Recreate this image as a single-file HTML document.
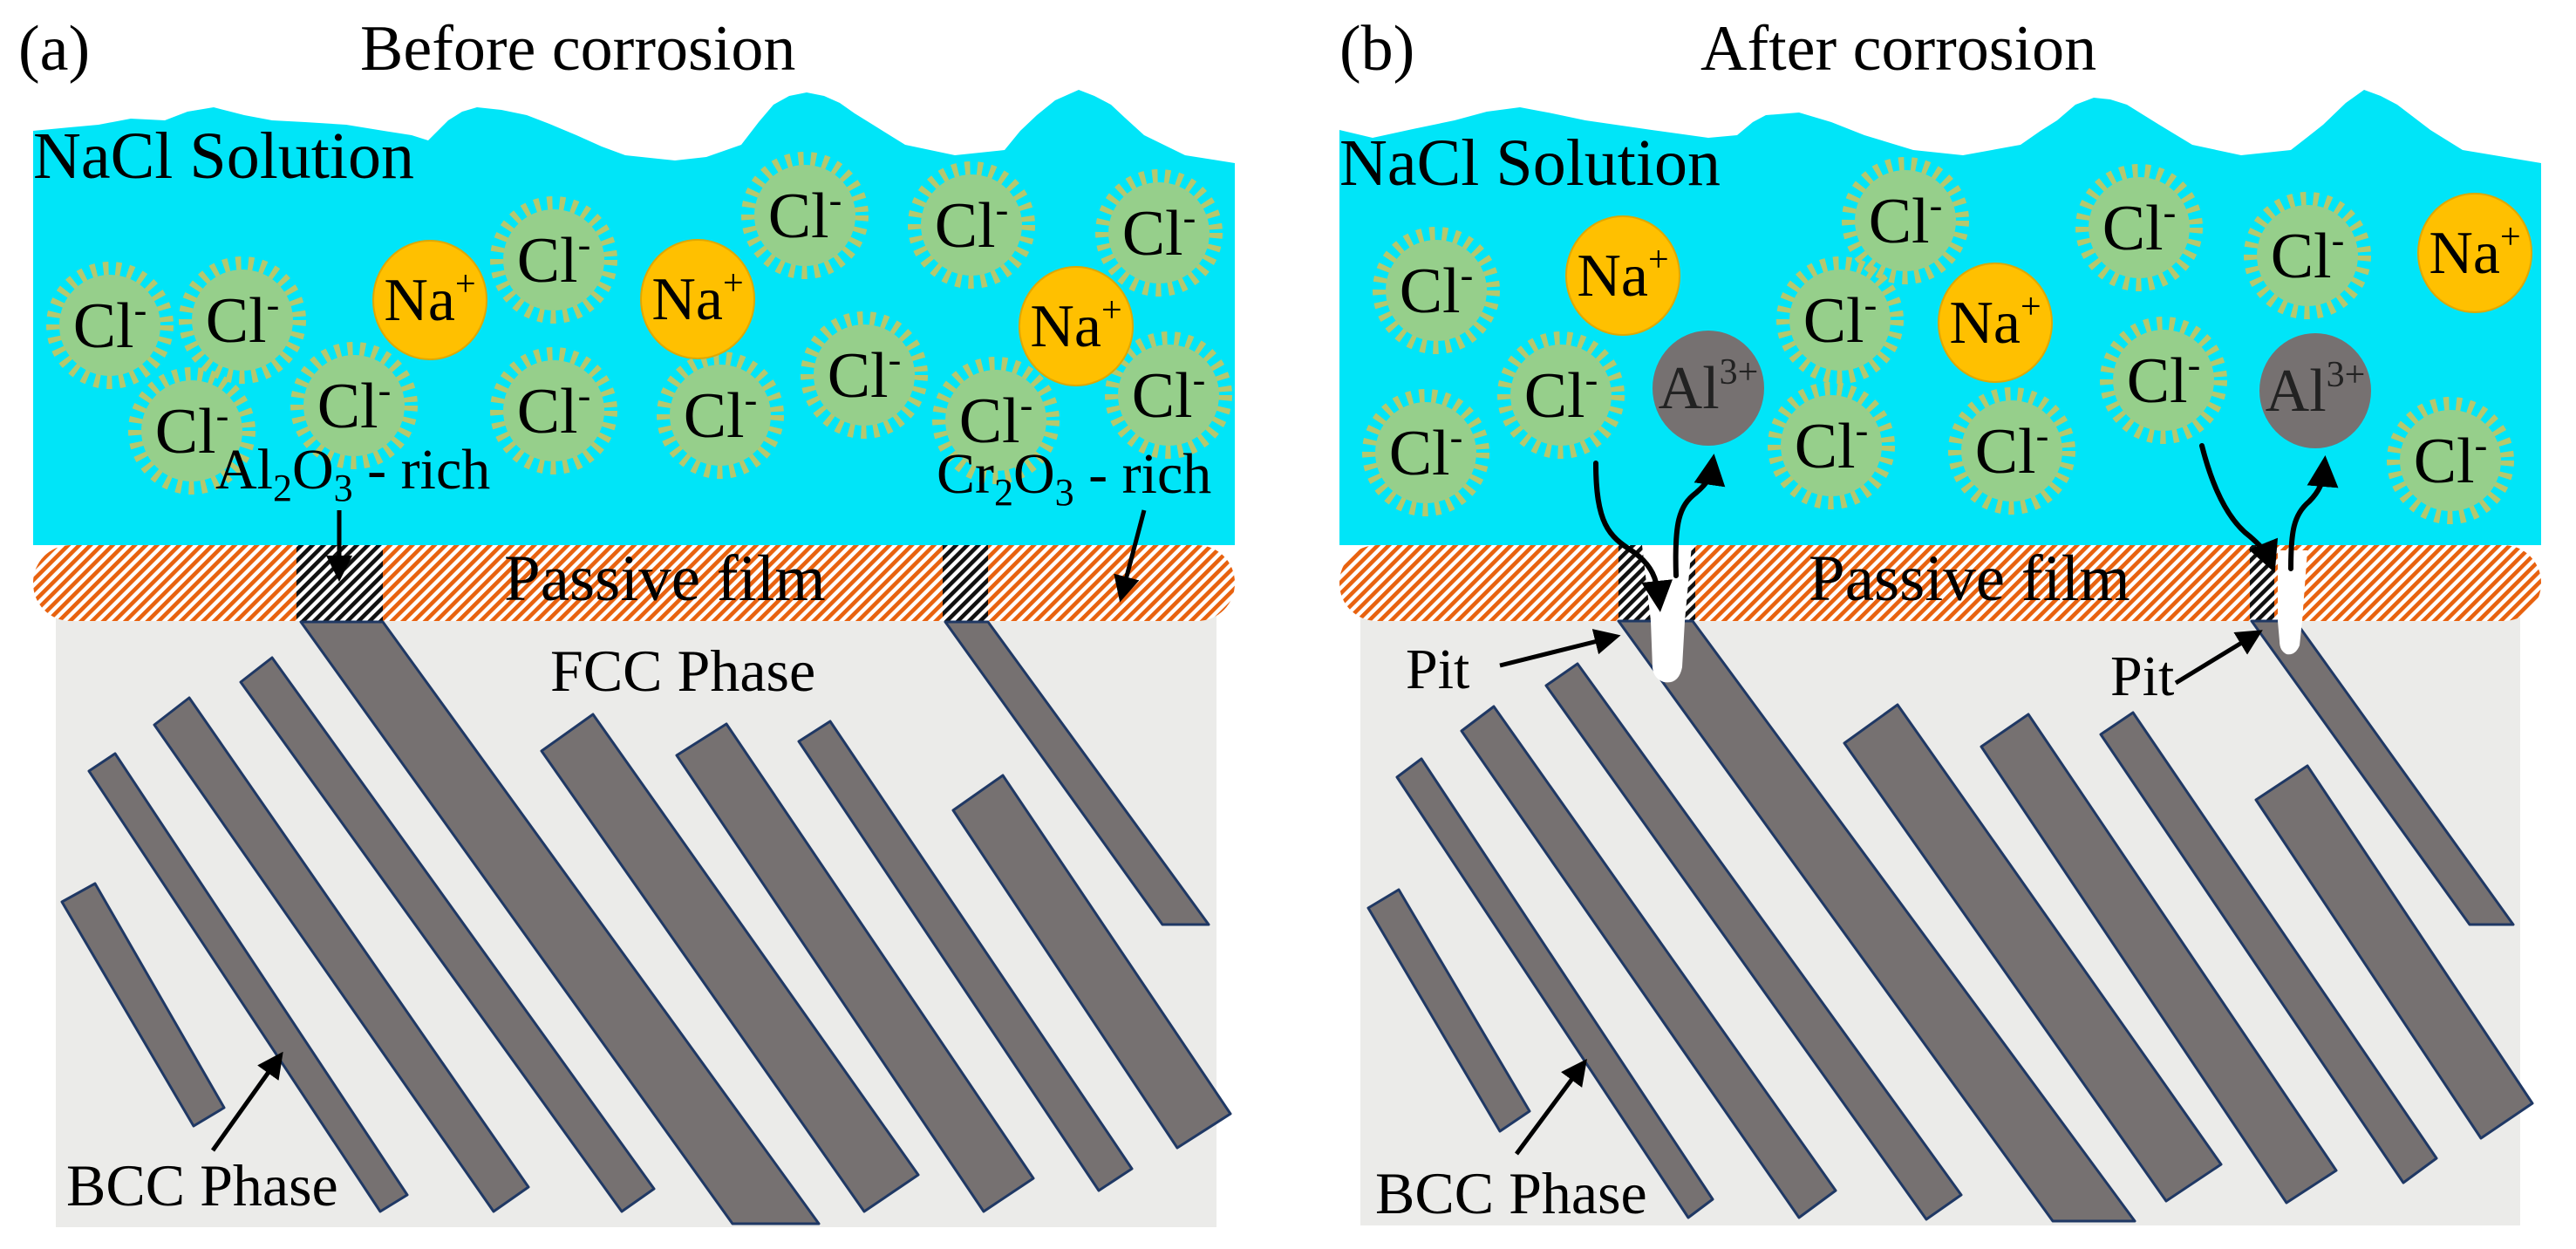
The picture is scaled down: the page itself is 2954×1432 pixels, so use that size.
<!DOCTYPE html>
<html><head><meta charset="utf-8"><style>html,body{margin:0;padding:0;background:#fff}svg{display:block}svg text{font-family:"Liberation Serif",serif}</style></head>
<body>
<svg width="2954" height="1432" viewBox="0 0 2954 1432" xmlns="http://www.w3.org/2000/svg">
<defs>
<pattern id="ho" width="9" height="9" patternUnits="userSpaceOnUse" patternTransform="rotate(45)">
<rect width="9" height="9" fill="#fff"/><rect width="4.6" height="9" fill="#E8620F"/></pattern>
<pattern id="hk" width="9" height="9" patternUnits="userSpaceOnUse" patternTransform="rotate(45)">
<rect width="9" height="9" fill="#fff"/><rect width="4.6" height="9" fill="#111"/></pattern>
<marker id="ah" markerWidth="6" markerHeight="6" refX="3" refY="3" orient="auto" markerUnits="strokeWidth">
<path d="M0,0 L6,3 L0,6 Z" fill="#000"/></marker>
<g id="cl"><circle r="64" fill="none" stroke="#b5c86e" stroke-width="18" stroke-dasharray="6 8"/><circle r="58" fill="#96CF8B"/></g>
<g id="na"><ellipse rx="65" ry="68" fill="#FFC000" stroke="#e0a800" stroke-width="2"/></g>
<g id="al"><ellipse rx="64" ry="66" fill="#767171"/></g>
</defs>

<!-- ===== Panel (a) ===== -->
<text x="21" y="80" font-size="74">(a)</text>
<text x="413" y="80" font-size="74">Before corrosion</text>
<path fill="#00E5F8" d="M38,150 L80,146 L113,143 L150,136 L189,138 L215,128 L245,123 L280,132 L312,138 L350,140 L397,143 L440,150 L472,155 L491,161 L514,138 L530,128 L547,123 L575,126 L604,132 L630,142 L661,155 L690,168 L717,178 L774,184 L810,180 L850,166 L870,140 L887,120 L905,110 L925,106 L945,110 L963,118 L980,130 L1001,143 L1038,166 L1095,178 L1152,172 L1170,150 L1189,132 L1210,115 L1237,103 L1255,110 L1274,120 L1290,135 L1312,155 L1359,178 L1416,187 L1416,625 L38,625 Z"/>
<text x="38" y="204" font-size="76">NaCl Solution</text>
<rect x="64" y="700" width="1331" height="707" fill="#ebebe9"/>
<rect x="38" y="625" width="1378" height="87" rx="43" fill="url(#ho)"/>
<rect x="340" y="625" width="99" height="87" fill="url(#hk)"/>
<rect x="1081" y="625" width="52" height="87" fill="url(#hk)"/>
<text x="578" y="688" font-size="75">Passive film</text>
<g fill="#767171" stroke="#1F3864" stroke-width="3" stroke-linejoin="round">
<polygon points="345,713 439,713 939,1403 840,1403"/>
<polygon points="276,782 312,754 750,1363 713,1389"/>
<polygon points="177,831 217,800 606,1361 566,1389"/>
<polygon points="102,884 132,864 467,1370 436,1389"/>
<polygon points="71,1034 109,1013 257,1270 222,1291"/>
<polygon points="621,861 680,819 1053,1347 991,1389"/>
<polygon points="776,866 833,830 1185,1351 1128,1389"/>
<polygon points="916,850 952,827 1298,1340 1260,1365"/>
<polygon points="1093,929 1150,889 1411,1277 1350,1316"/>
<polygon points="1084,713 1133,713 1386,1060 1333,1060"/>
</g>
<text x="631" y="792" font-size="68">FCC Phase</text>
<text x="76" y="1382" font-size="68">BCC Phase</text>
<line x1="244" y1="1319" x2="316" y2="1218" stroke="#000" stroke-width="5" marker-end="url(#ah)"/>

<use href="#cl" x="126" y="373"/><use href="#cl" x="278" y="367"/><use href="#cl" x="220" y="494"/>
<use href="#cl" x="406" y="465"/><use href="#cl" x="635" y="298"/><use href="#cl" x="635" y="471"/>
<use href="#cl" x="826" y="476"/><use href="#cl" x="923" y="247"/><use href="#cl" x="991" y="430"/>
<use href="#cl" x="1114" y="258"/><use href="#cl" x="1142" y="482"/><use href="#cl" x="1329" y="267"/>
<use href="#cl" x="1340" y="453"/>
<use href="#na" x="493" y="344"/><use href="#na" x="800" y="343"/><use href="#na" x="1234" y="374"/>
<g font-size="74" text-anchor="middle">
<text x="126" y="398">Cl<tspan dy="-28" font-size="44">-</tspan></text>
<text x="278" y="392">Cl<tspan dy="-28" font-size="44">-</tspan></text>
<text x="220" y="519">Cl<tspan dy="-28" font-size="44">-</tspan></text>
<text x="406" y="490">Cl<tspan dy="-28" font-size="44">-</tspan></text>
<text x="635" y="323">Cl<tspan dy="-28" font-size="44">-</tspan></text>
<text x="635" y="496">Cl<tspan dy="-28" font-size="44">-</tspan></text>
<text x="826" y="501">Cl<tspan dy="-28" font-size="44">-</tspan></text>
<text x="923" y="272">Cl<tspan dy="-28" font-size="44">-</tspan></text>
<text x="991" y="455">Cl<tspan dy="-28" font-size="44">-</tspan></text>
<text x="1114" y="283">Cl<tspan dy="-28" font-size="44">-</tspan></text>
<text x="1142" y="507">Cl<tspan dy="-28" font-size="44">-</tspan></text>
<text x="1329" y="292">Cl<tspan dy="-28" font-size="44">-</tspan></text>
<text x="1340" y="478">Cl<tspan dy="-28" font-size="44">-</tspan></text>
</g>
<g font-size="70" text-anchor="middle">
<text x="493" y="367">Na<tspan dy="-28" font-size="42">+</tspan></text>
<text x="800" y="366">Na<tspan dy="-28" font-size="42">+</tspan></text>
<text x="1234" y="397">Na<tspan dy="-28" font-size="42">+</tspan></text>
</g>
<text x="247" y="560" font-size="66">Al<tspan dy="14" font-size="44">2</tspan><tspan dy="-14">O</tspan><tspan dy="14" font-size="44">3</tspan><tspan dy="-14"> - rich</tspan></text>
<text x="1074" y="565" font-size="66">Cr<tspan dy="14" font-size="44">2</tspan><tspan dy="-14">O</tspan><tspan dy="14" font-size="44">3</tspan><tspan dy="-14"> - rich</tspan></text>
<line x1="389" y1="585" x2="389" y2="652" stroke="#000" stroke-width="5" marker-end="url(#ah)"/>
<line x1="1312" y1="585" x2="1288" y2="676" stroke="#000" stroke-width="5" marker-end="url(#ah)"/>

<!-- ===== Panel (b) ===== -->
<text x="1536" y="80" font-size="74">(b)</text>
<text x="1950" y="80" font-size="74">After corrosion</text>
<path fill="#00E5F8" d="M1536,149 L1574,158 L1620,148 L1668,138 L1705,128 L1743,123 L1780,130 L1818,138 L1894,149 L1959,158 L1992,155 L2010,140 L2025,132 L2063,129 L2100,140 L2138,155 L2194,172 L2251,178 L2317,166 L2340,150 L2359,138 L2380,120 L2401,112 L2420,114 L2439,120 L2476,143 L2514,166 L2570,178 L2627,172 L2645,158 L2664,143 L2690,118 L2711,103 L2730,110 L2749,120 L2787,149 L2824,172 L2914,187 L2914,625 L1536,625 Z"/>
<text x="1536" y="212" font-size="76">NaCl Solution</text>
<rect x="1560" y="700" width="1330" height="705" fill="#ebebe9"/>
<rect x="1536" y="625" width="1378" height="87" rx="43" fill="url(#ho)"/>
<rect x="1856" y="625" width="88" height="87" fill="url(#hk)"/>
<rect x="2580" y="625" width="28" height="87" fill="url(#hk)"/>
<text x="2074" y="688" font-size="75">Passive film</text>
<g fill="#767171" stroke="#1F3864" stroke-width="3" stroke-linejoin="round">
<polygon points="1856,712 1941,712 2448,1400 2354,1400"/>
<polygon points="1773,786 1809,761 2249,1370 2209,1398"/>
<polygon points="1676,838 1713,810 2105,1365 2063,1396"/>
<polygon points="1602,891 1630,870 1964,1375 1936,1396"/>
<polygon points="1569,1041 1604,1020 1754,1274 1720,1297"/>
<polygon points="2115,852 2176,808 2547,1335 2484,1377"/>
<polygon points="2272,856 2326,819 2679,1342 2622,1379"/>
<polygon points="2409,842 2446,817 2794,1328 2756,1356"/>
<polygon points="2587,917 2646,878 2904,1265 2845,1305"/>
<polygon points="2582,712 2632,712 2882,1060 2832,1060"/>
</g>
<path fill="#fff" d="M1883,625 L1940,625 L1932,712 L1929,765 Q1925,785 1908,782 Q1896,778 1895,765 L1893,712 Z"/>
<path fill="#fff" d="M2612,631 L2646,631 L2640,712 L2637,740 Q2632,752 2622,750 Q2614,746 2614,735 L2612,712 Z"/>
<text x="1612" y="789" font-size="66">Pit</text>
<text x="2420" y="797" font-size="66">Pit</text>
<line x1="1720" y1="763" x2="1844" y2="732" stroke="#000" stroke-width="5" marker-end="url(#ah)"/>
<line x1="2495" y1="783" x2="2582" y2="730" stroke="#000" stroke-width="5" marker-end="url(#ah)"/>
<text x="1577" y="1391" font-size="68">BCC Phase</text>
<line x1="1739" y1="1323" x2="1811" y2="1226" stroke="#000" stroke-width="5" marker-end="url(#ah)"/>

<use href="#cl" x="1647" y="333"/><use href="#cl" x="1635" y="519"/><use href="#cl" x="1790" y="453"/>
<use href="#cl" x="2110" y="367"/><use href="#cl" x="2185" y="253"/><use href="#cl" x="2100" y="511"/>
<use href="#cl" x="2307" y="517"/><use href="#cl" x="2453" y="261"/><use href="#cl" x="2646" y="293"/>
<use href="#cl" x="2481" y="436"/><use href="#cl" x="2810" y="528"/>
<use href="#na" x="1861" y="316"/><use href="#na" x="2288" y="370"/><use href="#na" x="2838" y="290"/>
<use href="#al" x="1959" y="445"/><use href="#al" x="2655" y="448"/>
<g font-size="74" text-anchor="middle">
<text x="1647" y="358">Cl<tspan dy="-28" font-size="44">-</tspan></text>
<text x="1635" y="544">Cl<tspan dy="-28" font-size="44">-</tspan></text>
<text x="1790" y="478">Cl<tspan dy="-28" font-size="44">-</tspan></text>
<text x="2110" y="392">Cl<tspan dy="-28" font-size="44">-</tspan></text>
<text x="2185" y="278">Cl<tspan dy="-28" font-size="44">-</tspan></text>
<text x="2100" y="536">Cl<tspan dy="-28" font-size="44">-</tspan></text>
<text x="2307" y="542">Cl<tspan dy="-28" font-size="44">-</tspan></text>
<text x="2453" y="286">Cl<tspan dy="-28" font-size="44">-</tspan></text>
<text x="2646" y="318">Cl<tspan dy="-28" font-size="44">-</tspan></text>
<text x="2481" y="461">Cl<tspan dy="-28" font-size="44">-</tspan></text>
<text x="2810" y="553">Cl<tspan dy="-28" font-size="44">-</tspan></text>
</g>
<g font-size="70" text-anchor="middle">
<text x="1861" y="339">Na<tspan dy="-28" font-size="42">+</tspan></text>
<text x="2288" y="393">Na<tspan dy="-28" font-size="42">+</tspan></text>
<text x="2838" y="313">Na<tspan dy="-28" font-size="42">+</tspan></text>
<text x="1959" y="468" fill="#222">Al<tspan dy="-28" font-size="42">3+</tspan></text>
<text x="2655" y="471" fill="#222">Al<tspan dy="-28" font-size="42">3+</tspan></text>
</g>
<g fill="none" stroke="#000" stroke-width="6" stroke-linecap="round">
<path d="M1830,531 C1830,600 1845,615 1872,632 C1895,648 1900,665 1902,684" marker-end="url(#ah)"/>
<path d="M1922,660 C1920,600 1925,580 1945,565 C1960,552 1962,545 1963,538" marker-end="url(#ah)"/>
<path d="M2525,511 C2540,570 2560,600 2580,615 C2595,628 2600,635 2602,640" marker-end="url(#ah)"/>
<path d="M2627,652 C2627,610 2630,590 2648,575 C2660,563 2664,552 2665,540" marker-end="url(#ah)"/>
</g>
</svg>
</body></html>
